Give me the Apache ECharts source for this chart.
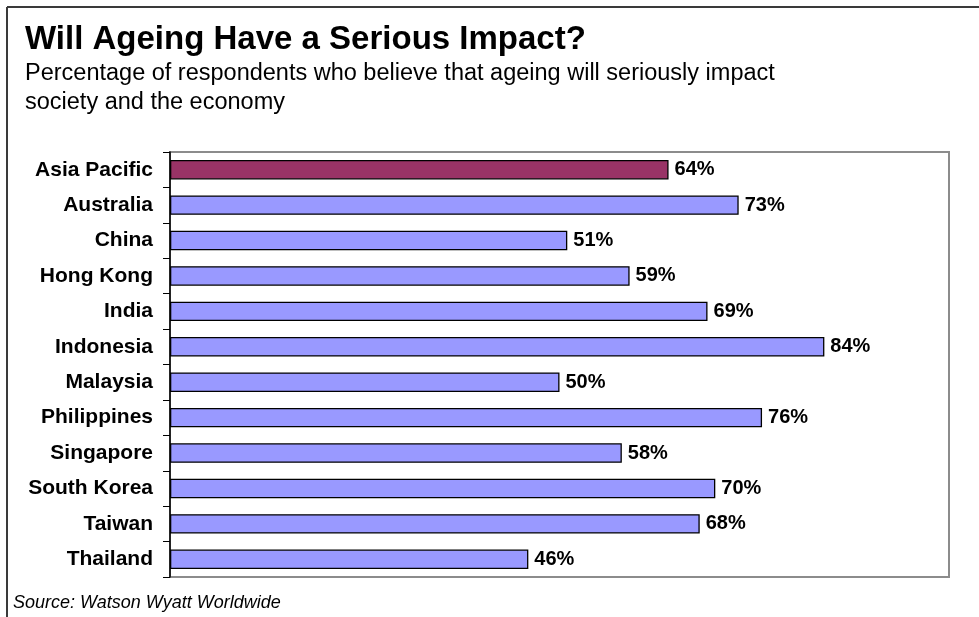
<!DOCTYPE html>
<html>
<head>
<meta charset="utf-8">
<script src="https://cdn.jsdelivr.net/npm/echarts@6/dist/echarts.min.js"></script>
<style>
  html, body { margin: 0; padding: 0; background: #ffffff; }
  #chart { width: 979px; height: 617px; }
</style>
</head>
<body>
<div id="chart"></div>
<script>
// Survey results: share of respondents who think ageing will seriously impact society and the economy
const countries = ['Asia Pacific', 'Australia', 'China', 'Hong Kong', 'India', 'Indonesia',
  'Malaysia', 'Philippines', 'Singapore', 'South Korea', 'Taiwan', 'Thailand'];
const shares = [64, 73, 51, 59, 69, 84, 50, 76, 58, 70, 68, 46];

const titleText = 'Will Ageing Have a Serious Impact?';
const subtitleLines = ['Percentage of respondents who believe that ageing will seriously impact',
  'society and the economy'];
const sourceText = 'Source: Watson Wyatt Worldwide';

const FONT = '"Liberation Sans", Arial, Helvetica, sans-serif';
const regionColor = '#993366';
const countryColor = '#9999FF';

const chart = echarts.init(document.getElementById('chart'), null, { renderer: 'canvas' });

const grid = { left: 170, right: 30, top: 152, bottom: 40 };

chart.setOption({
  animation: false,
  backgroundColor: '#ffffff',
  grid: Object.assign({ show: true, borderColor: '#8c8c8c', borderWidth: 2, backgroundColor: '#ffffff' }, grid),
  xAxis: {
    type: 'value', min: 0, max: 100,
    show: false
  },
  yAxis: {
    type: 'category',
    data: countries,
    inverse: true,
    axisLine: { show: true, lineStyle: { color: '#000000', width: 1.5 } },
    axisTick: { show: true, length: 7, lineStyle: { color: '#000000' } },
    axisLabel: {
      color: '#000000', fontFamily: FONT, fontWeight: 'bold', fontSize: 21, margin: 17
    },
    splitLine: { show: false }
  },
  series: [{
    type: 'bar',
    data: shares.map((v, i) => ({
      value: v,
      itemStyle: { color: i === 0 ? regionColor : countryColor }
    })),
    barCategoryGap: '45%',
    itemStyle: { borderColor: '#000000', borderWidth: 1.3 },
    label: {
      show: true, position: 'right', distance: 6,
      formatter: p => p.value + '%',
      color: '#000000', fontFamily: FONT, fontWeight: 'bold', fontSize: 20
    }
  }],
  graphic: [
    // outer frame (top and left edges)
    { type: 'line', silent: true, shape: { x1: 7, y1: 7, x2: 979, y2: 7 }, style: { stroke: '#3a3a3a', lineWidth: 2 } },
    { type: 'line', silent: true, shape: { x1: 7, y1: 7, x2: 7, y2: 617 }, style: { stroke: '#3a3a3a', lineWidth: 2 } },
    { type: 'text', silent: true, x: 25, y: 39.5,
      style: { text: titleText, font: 'bold 33px ' + FONT, fill: '#000000', textVerticalAlign: 'middle' } },
    { type: 'text', silent: true, x: 25, y: 74,
      style: { text: subtitleLines[0], font: '23.5px ' + FONT, fill: '#000000', textVerticalAlign: 'middle' } },
    { type: 'text', silent: true, x: 25, y: 102.5,
      style: { text: subtitleLines[1], font: '23.5px ' + FONT, fill: '#000000', textVerticalAlign: 'middle' } },
    { type: 'text', silent: true, x: 13, y: 603,
      style: { text: sourceText, font: 'italic 18px ' + FONT, fill: '#000000', textVerticalAlign: 'middle' } }
  ]
});
</script>
</body>
</html>
